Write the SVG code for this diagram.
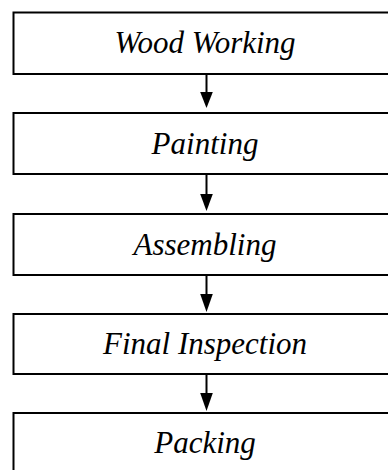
<svg xmlns="http://www.w3.org/2000/svg" width="388" height="470" viewBox="0 0 388 470">
  <style>
    .box { fill: #ffffff; stroke: #000000; stroke-width: 2; }
    .label { font-family: "Liberation Serif", "Times New Roman", serif; font-style: italic; font-size: 31px; fill: #000000; text-anchor: middle; }
    .link { stroke: #000000; stroke-width: 2; fill: none; }
    .head { fill: #000000; }
  </style>
  <rect width="388" height="470" fill="#ffffff"/>

  <g id="wood-working">
    <rect class="box" x="13.5" y="12.5" width="390" height="61.5"/>
    <text class="label" x="205" y="53">Wood Working</text>
  </g>
  <g id="painting">
    <rect class="box" x="13.5" y="113" width="390" height="61"/>
    <text class="label" x="205" y="153.5">Painting</text>
  </g>
  <g id="assembling">
    <rect class="box" x="13.5" y="214" width="390" height="61"/>
    <text class="label" x="205" y="255">Assembling</text>
  </g>
  <g id="final-inspection">
    <rect class="box" x="13.5" y="314" width="390" height="60"/>
    <text class="label" x="205" y="354">Final Inspection</text>
  </g>
  <g id="packing">
    <rect class="box" x="13.5" y="413" width="390" height="70"/>
    <text class="label" x="205" y="453">Packing</text>
  </g>

  <g id="connectors">
    <line class="link" x1="206.5" y1="74" x2="206.5" y2="93"/>
    <polygon class="head" points="200.2,92 212.8,92 206.5,108"/>
    <line class="link" x1="206.5" y1="174" x2="206.5" y2="195"/>
    <polygon class="head" points="200.2,194 212.8,194 206.5,211"/>
    <line class="link" x1="206.5" y1="275" x2="206.5" y2="295"/>
    <polygon class="head" points="200.2,294 212.8,294 206.5,312"/>
    <line class="link" x1="206.5" y1="374" x2="206.5" y2="394"/>
    <polygon class="head" points="200.2,393 212.8,393 206.5,411"/>
  </g>
</svg>
